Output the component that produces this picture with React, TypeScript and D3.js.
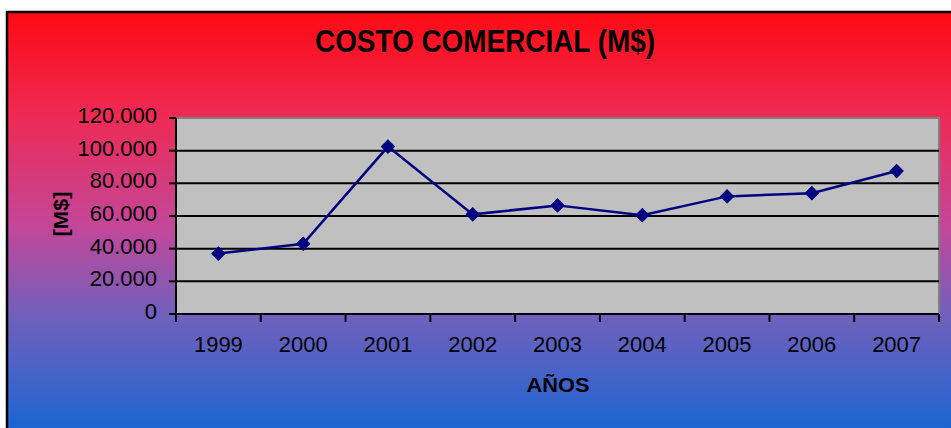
import { useEffect, useRef } from "react";
import * as d3 from "d3";

const years = ["1999", "2000", "2001", "2002", "2003", "2004", "2005", "2006", "2007"];
const costs = [37000, 43000, 102500, 61000, 66500, 60500, 72000, 74000, 87500];
const yTicks = [0, 20000, 40000, 60000, 80000, 100000, 120000];

const locale = d3.formatLocale({ decimal: ",", thousands: ".", grouping: [3], currency: ["$", ""] });
const fmt = locale.format(",");

export default function App() {
  const ref = useRef<SVGSVGElement>(null);

  useEffect(() => {
    if (!ref.current) return;
    const svg = d3.select(ref.current);
    svg.selectAll("*").remove();

    const width = 951;
    const height = 428;
    const plot = { left: 176, right: 939, top: 118, bottom: 314 };
    const font = "Arial, 'Liberation Sans', sans-serif";

    // background gradient
    const defs = svg.append("defs");
    const grad = defs
      .append("linearGradient")
      .attr("id", "bg")
      .attr("x1", 0)
      .attr("y1", 0)
      .attr("x2", 0)
      .attr("y2", 1);
    const stops: Array<[number, string]> = [
      [0, "#ff0a12"],
      [0.25, "#ee2a55"],
      [0.52, "#c2479a"],
      [0.73, "#7060bc"],
      [0.85, "#4d62c6"],
      [1, "#1c66d2"],
    ];
    stops.forEach(([o, c]) => grad.append("stop").attr("offset", o).attr("stop-color", c));

    svg.append("rect").attr("x", 0).attr("y", 0).attr("width", width).attr("height", height).attr("fill", "#fff");
    svg.append("rect").attr("x", 7).attr("y", 12).attr("width", width - 7).attr("height", height - 12).attr("fill", "url(#bg)");
    svg
      .append("path")
      .attr("d", `M7,${height} V12 H${width}`)
      .attr("fill", "none")
      .attr("stroke", "#000")
      .attr("stroke-width", 2.5);

    const x = d3.scaleBand<string>().domain(years).range([plot.left, plot.right]).padding(0);
    const y = d3.scaleLinear().domain([0, 120000]).range([plot.bottom, plot.top]);

    // plot area
    svg
      .append("rect")
      .attr("x", plot.left)
      .attr("y", plot.top)
      .attr("width", plot.right - plot.left)
      .attr("height", plot.bottom - plot.top)
      .attr("fill", "#c0c0c0")
      .attr("stroke", "#808080")
      .attr("stroke-width", 2);

    // gridlines
    svg
      .append("g")
      .selectAll("line")
      .data(yTicks.filter((t) => t > 0 && t < 120000))
      .join("line")
      .attr("x1", plot.left)
      .attr("x2", plot.right)
      .attr("y1", (d) => y(d))
      .attr("y2", (d) => y(d))
      .attr("stroke", "#000")
      .attr("stroke-width", 2);

    // y axis
    svg
      .append("line")
      .attr("x1", plot.left)
      .attr("x2", plot.left)
      .attr("y1", plot.top)
      .attr("y2", plot.bottom)
      .attr("stroke", "#000")
      .attr("stroke-width", 2);
    const yg = svg.append("g");
    yg.selectAll("line")
      .data(yTicks)
      .join("line")
      .attr("x1", plot.left - 7)
      .attr("x2", plot.left)
      .attr("y1", (d) => y(d))
      .attr("y2", (d) => y(d))
      .attr("stroke", "#000")
      .attr("stroke-width", 2);
    yg.selectAll("text")
      .data(yTicks)
      .join("text")
      .attr("x", 157)
      .attr("y", (d) => y(d) + 5)
      .attr("text-anchor", "end")
      .attr("font-family", font)
      .attr("font-size", "22px")
      .attr("fill", "#000")
      .text((d) => fmt(d));

    // x axis
    svg
      .append("line")
      .attr("x1", plot.left)
      .attr("x2", plot.right)
      .attr("y1", plot.bottom)
      .attr("y2", plot.bottom)
      .attr("stroke", "#000")
      .attr("stroke-width", 2);
    const bounds = years.map((yr) => x(yr)!).concat([plot.right]);
    const xg = svg.append("g");
    xg.selectAll("line")
      .data(bounds)
      .join("line")
      .attr("x1", (d) => d)
      .attr("x2", (d) => d)
      .attr("y1", plot.bottom)
      .attr("y2", plot.bottom + 8)
      .attr("stroke", "#000")
      .attr("stroke-width", 2);
    xg.selectAll("text")
      .data(years)
      .join("text")
      .attr("x", (d) => x(d)! + x.bandwidth() / 2)
      .attr("y", 352)
      .attr("text-anchor", "middle")
      .attr("font-family", font)
      .attr("font-size", "22px")
      .attr("fill", "#000")
      .text((d) => d);

    // line + markers
    const data = years.map((yr, i) => ({ yr, v: costs[i] }));
    const line = d3
      .line<{ yr: string; v: number }>()
      .x((d) => x(d.yr)! + x.bandwidth() / 2)
      .y((d) => y(d.v));
    svg
      .append("path")
      .datum(data)
      .attr("d", line)
      .attr("fill", "none")
      .attr("stroke", "#000080")
      .attr("stroke-width", 2.5);
    // square diamond marker (rotated square)
    const sym = d3.symbol().type(d3.symbolSquare).size(88);
    svg
      .append("g")
      .selectAll("path")
      .data(data)
      .join("path")
      .attr("transform", (d) => `translate(${x(d.yr)! + x.bandwidth() / 2},${y(d.v)}) rotate(45)`)
      .attr("d", sym)
      .attr("fill", "#000080")
      .attr("stroke", "#000080")
      .attr("stroke-width", 1);

    // titles
    svg
      .append("text")
      .attr("x", 485)
      .attr("y", 52)
      .attr("text-anchor", "middle")
      .attr("font-family", font)
      .attr("font-weight", "bold")
      .attr("font-size", "31px")
      .attr("textLength", 340)
      .attr("lengthAdjust", "spacingAndGlyphs")
      .attr("fill", "#000")
      .text("COSTO COMERCIAL (M$)");

    svg
      .append("text")
      .attr("x", 558)
      .attr("y", 392)
      .attr("text-anchor", "middle")
      .attr("font-family", font)
      .attr("font-weight", "bold")
      .attr("font-size", "21px")
      .attr("textLength", 63)
      .attr("lengthAdjust", "spacingAndGlyphs")
      .attr("fill", "#000")
      .text("AÑOS");

    svg
      .append("text")
      .attr("transform", "translate(68,214) rotate(-90)")
      .attr("text-anchor", "middle")
      .attr("font-family", font)
      .attr("font-weight", "bold")
      .attr("font-size", "21px")
      .attr("textLength", 45)
      .attr("lengthAdjust", "spacingAndGlyphs")
      .attr("fill", "#000")
      .text("[M$]");
  }, []);

  return (
    <svg
      ref={ref}
      width={951}
      height={428}
      style={{ position: "absolute", left: 0, top: 0, display: "block" }}
    />
  );
}
